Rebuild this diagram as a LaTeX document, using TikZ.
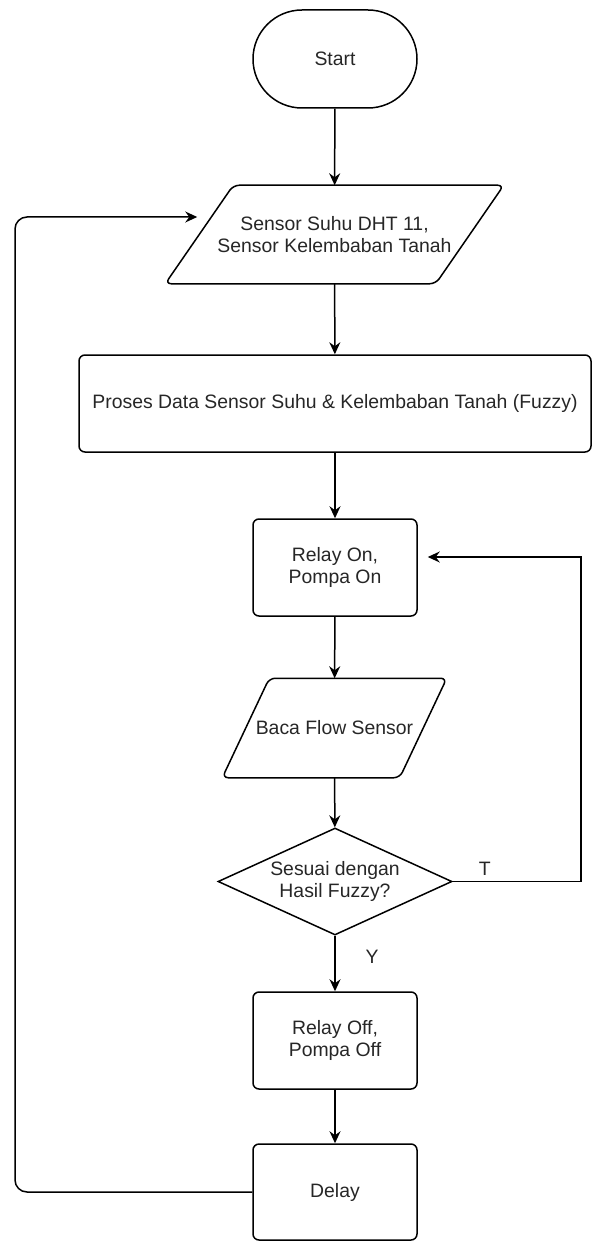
\documentclass[tikz,border=0pt]{standalone}
\usepackage{fontspec}
\newfontfamily\arialfont{Liberation Sans}
\usepackage{tikz}
\usetikzlibrary{shapes.geometric,positioning,arrows.meta,calc}

\begin{document}
\begin{tikzpicture}[
  x=1pt, y=-1pt,
  base/.style={draw=black, line width=1.5pt, inner sep=0pt, align=center,
               text=black!85, font=\arialfont\fontsize{19.4}{22.5}\selectfont},
  term/.style={base, rectangle, rounded corners=49pt,
               minimum width=164pt, minimum height=98pt},
  proc/.style={base, rectangle, rounded corners=6pt, minimum height=97pt},
  io/.style={base, draw=none, rectangle},
  ioline/.style={draw=black, line width=1.5pt, rounded corners=6pt},
  dec/.style={base, diamond, aspect=2.19,
              minimum width=234pt, minimum height=107pt},
  flow/.style={-{Stealth[length=12pt, width=11pt, inset=4pt]},
               line width=1.5pt, draw=black},
  lbl/.style={text=black!85, font=\arialfont\fontsize{19.4}{22.5}\selectfont}
]
\useasboundingbox (0,0) rectangle (593,1241);
\def\cx{335}

% Main column
\node[term] (start) at (\cx,59) {Start};
\node[io, minimum width=269pt, minimum height=97pt] (sensor) at (334.5,234.5)
  {Sensor Suhu DHT 11,\\Sensor Kelembaban Tanah};
\node[proc, minimum width=512pt] (proses) at (\cx,403.5)
  {Proses Data Sensor Suhu \& Kelembaban Tanah (Fuzzy)};
\node[proc, minimum width=164pt] (relayon) at (\cx,567.5) {Relay On,\\Pompa On};
\node[io, minimum width=176pt, minimum height=98pt] (baca) at (334.5,728)
  {Baca Flow Sensor};
\node[dec] (cek) at (\cx,881.5) {Sesuai dengan\\Hasil Fuzzy?};
\node[proc, minimum width=164pt] (relayoff) at (\cx,1040.5) {Relay Off,\\Pompa Off};
\node[proc, minimum width=164pt, minimum height=96pt] (delay) at (\cx,1192) {Delay};

% Parallelogram outlines (input/output)
\draw[ioline] ([xshift=34pt]sensor.north west) -- ([xshift=34pt]sensor.north east)
  -- ([xshift=-34pt]sensor.south east) -- ([xshift=-34pt]sensor.south west) -- cycle;
\draw[ioline] ([xshift=23.5pt]baca.north west) -- ([xshift=23.5pt]baca.north east)
  -- ([xshift=-23.5pt]baca.south east) -- ([xshift=-23.5pt]baca.south west) -- cycle;

% Straight flow
\draw[flow] (start) -- (sensor);
\draw[flow] (sensor) -- (proses);
\draw[flow] (proses) -- (relayon);
\draw[flow] (relayon) -- (baca);
\draw[flow] (baca) -- (cek);
\draw[flow] (cek) -- node[lbl, pos=0.38, xshift=37pt] {Y} (relayoff);
\draw[flow] (relayoff) -- (delay);

% Loops back
\coordinate (rloop) at (581,557);
\coordinate (lloop) at (15,217);
\draw[flow] (cek.east) -| node[lbl, above, pos=0.125, yshift=2pt] {T} (rloop)
  -- ([xshift=10pt,yshift=10.5pt]relayon.east);
\draw[flow, rounded corners=12pt] (delay.west) -| (lloop)
  -- ([xshift=-2pt,yshift=17.5pt]sensor.west);
\end{tikzpicture}
\end{document}
